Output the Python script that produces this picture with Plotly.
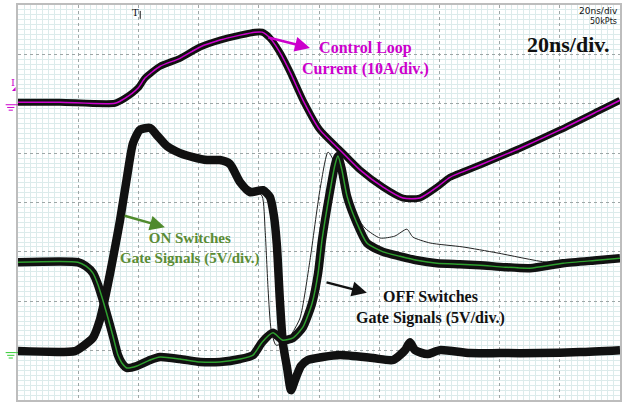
import plotly.graph_objects as go

# Time axis in ns (20 ns/div, 10 divisions); vertical axis in screen divisions (8)
cur_t = [0, 13.95, 32.2, 35.5, 39.9, 42.2, 47.2, 53.8, 60.5, 67.1, 73.8, 78.7, 81.1, 83.7, 87.0, 90.4,
         94.7, 100.3, 107.0, 113.6, 121.3, 127.9, 133.5, 139.2, 143.5, 153.5, 166.8, 180.1, 193.4, 200]
cur_v = [6.03, 6.03, 6.01, 6.11, 6.32, 6.52, 6.76, 6.92, 7.15, 7.29, 7.39, 7.45, 7.45, 7.33, 7.04, 6.64,
         6.07, 5.47, 5.06, 4.66, 4.31, 4.09, 4.09, 4.31, 4.51, 4.76, 5.10, 5.47, 5.87, 6.07]

on_t = [0, 18.9, 21.6, 24.9, 27.2, 28.9, 30.6, 32.2, 33.9, 36.2, 38.2, 40.5, 43.9, 46.2, 49.5, 53.8,
        58.1, 62.8, 67.1, 70.4, 73.8, 77.1, 81.4, 83.7, 85.0, 86.0, 87.0, 88.0, 89.4, 90.7, 92.3, 94.0,
        96.3, 101.3, 107.0, 117.9, 124.6, 128.6, 130.2, 131.9, 135.9, 140.2, 150.1, 160.1, 173.4, 186.7, 200]
on_v = [0.99, 0.99, 1.09, 1.26, 1.62, 2.06, 2.57, 3.08, 3.64, 4.51, 5.20, 5.47, 5.51, 5.36, 5.14, 5.00,
        4.92, 4.86, 4.86, 4.78, 4.41, 4.21, 4.25, 4.11, 3.74, 3.14, 2.02, 1.15, 0.65, 0.20, 0.45, 0.69,
        0.81, 0.87, 0.91, 0.85, 0.81, 1.01, 1.17, 1.01, 0.93, 1.01, 0.95, 0.95, 0.95, 0.97, 1.01]

on_out_t = [73.8, 78.7, 81.1, 82.1, 83.1, 84.1, 85.7, 88.0]
on_out_v = [4.41, 4.25, 4.13, 3.44, 2.23, 1.42, 1.11, 1.15]

off_t = [0, 19.9, 22.6, 24.9, 26.6, 28.2, 29.9, 31.6, 33.2, 34.5, 36.2, 39.5, 43.9, 47.2, 53.8, 60.5,
         67.1, 73.8, 78.1, 81.1, 84.7, 88.0, 91.4, 94.7, 97.7, 99.7, 101.0, 103.6, 105.3, 106.3, 107.6,
         109.3, 112.6, 115.9, 121.3, 126.9, 132.5, 139.2, 146.8, 153.5, 161.8, 170.1, 181.1, 192.4, 200]
off_v = [2.79, 2.79, 2.71, 2.57, 2.33, 2.02, 1.66, 1.28, 0.91, 0.75, 0.65, 0.69, 0.81, 0.87, 0.83, 0.77,
         0.77, 0.83, 0.91, 1.17, 1.36, 1.21, 1.26, 1.48, 1.96, 2.57, 3.24, 4.21, 4.76, 4.94, 4.66,
         4.13, 3.58, 3.18, 3.00, 2.91, 2.83, 2.77, 2.75, 2.73, 2.69, 2.67, 2.77, 2.83, 2.87]

off_out_t = [90.4, 93.7, 97.0, 100.3, 103.0, 105.6, 110.3, 115.3, 120.3, 125.2, 129.2, 131.2, 136.9,
             147.8, 159.1, 175.7, 186.7]
off_out_v = [1.28, 1.66, 2.83, 4.25, 5.02, 4.76, 3.95, 3.48, 3.28, 3.32, 3.46, 3.30, 3.18,
             3.10, 2.98, 2.79, 2.79]

MAG = "#CC00CC"
GRN = "#4F8A2C"
TXTG = "#5B8C35"

fig = go.Figure()
sm = 0.6
# Control loop current: black persistence band + magenta trace
fig.add_trace(go.Scatter(x=cur_t, y=cur_v, mode="lines",
                         line=dict(color="#111", width=7, shape="spline", smoothing=sm)))
fig.add_trace(go.Scatter(x=cur_t, y=cur_v, mode="lines",
                         line=dict(color=MAG, width=1.5, shape="spline", smoothing=sm)))
# ON switches bundle
fig.add_trace(go.Scatter(x=on_out_t, y=on_out_v, mode="lines",
                         line=dict(color="#222", width=1, shape="spline", smoothing=sm)))
fig.add_trace(go.Scatter(x=on_t, y=on_v, mode="lines",
                         line=dict(color="#111", width=8.5, shape="spline", smoothing=sm)))
# OFF switches bundle
fig.add_trace(go.Scatter(x=off_out_t, y=off_out_v, mode="lines",
                         line=dict(color="#222", width=1, shape="spline", smoothing=sm)))
fig.add_trace(go.Scatter(x=off_t, y=off_v, mode="lines",
                         line=dict(color="#111", width=8.5, shape="spline", smoothing=sm)))
fig.add_trace(go.Scatter(x=off_t, y=off_v, mode="lines",
                         line=dict(color="#2E9E2E", width=1.5, shape="spline", smoothing=sm)))

axis_common = dict(showticklabels=False, ticks="", zeroline=False,
                   showline=True, mirror=True, linecolor="#BDBDBD", linewidth=2,
                   showgrid=True, gridcolor="#9EA6A6", gridwidth=1, griddash="dot")
fig.update_xaxes(range=[0, 200], dtick=20, tick0=0,
                 minor=dict(dtick=2, showgrid=True, gridcolor="#DCEBEB", gridwidth=1, griddash="solid"),
                 **axis_common)
fig.update_yaxes(range=[0, 8], dtick=1, tick0=0,
                 minor=dict(dtick=0.1, showgrid=True, gridcolor="#DCEBEB", gridwidth=1, griddash="solid"),
                 **axis_common)

serif = "Liberation Serif"
ann = []
ann.append(dict(x=115.4, y=6.92, xref="x", yref="y", text="<b>Control Loop<br>Current (10A/div.)</b>",
                showarrow=False, font=dict(family=serif, size=16, color=MAG), align="center"))
ann.append(dict(x=57.1, y=3.06, xref="x", yref="y", text="<b>ON Switches<br>Gate Signals (5V/div.)</b>",
                showarrow=False, font=dict(family=serif, size=15, color=TXTG), align="center"))
ann.append(dict(x=137.0, y=1.88, xref="x", yref="y", text="<b>OFF Switches<br>Gate Signals (5V/div.)</b>",
                showarrow=False, font=dict(family=serif, size=16, color="#111"), align="center"))
ann.append(dict(x=183.0, y=7.19, xref="x", yref="y", text="<b>20ns/div.</b>",
                showarrow=False, font=dict(family=serif, size=22, color="#111")))
ann.append(dict(x=1.0, y=0.985, xref="paper", yref="paper", xanchor="right", yanchor="middle",
                text="20ns/div", showarrow=False, font=dict(family="DejaVu Sans", size=9, color="#111")))
ann.append(dict(x=0.998, y=0.957, xref="paper", yref="paper", xanchor="right", yanchor="middle",
                text="50kPts", showarrow=False, font=dict(family="DejaVu Sans", size=8, color="#111")))
# arrows
for (hx, hy, tx, ty, col) in [(97.0, 7.13, 82.7, 7.35, MAG), (48.8, 3.50, 34.9, 3.74, GRN),
                              (115.9, 2.17, 102.0, 2.39, "#111")]:
    ann.append(dict(x=hx, y=hy, ax=tx, ay=ty, xref="x", yref="y", axref="x", ayref="y",
                    text="", showarrow=True, arrowhead=2, arrowsize=1.2, arrowwidth=2.5,
                    arrowcolor=col))
# scope markers
ann.append(dict(x=39.0, y=1.0, xref="x", yref="paper", yanchor="top", text="T",
                showarrow=False, font=dict(family="DejaVu Serif", size=10, color="#111")))
ann.append(dict(x=-0.015, y=6.43, xref="paper", yref="y", text="I",
                showarrow=False, font=dict(family="DejaVu Serif", size=10, color=MAG)))
fig.update_layout(annotations=ann)

shapes = []
# trigger marker tick
shapes.append(dict(type="line", xref="x", yref="paper", x0=40.6, x1=40.6, y0=0.985, y1=0.965,
                   line=dict(color="#111", width=1)))
# small triangle next to I
shapes.append(dict(type="path", xref="paper", yref="y",
                   path="M -0.010,6.26 L -0.004,6.26 L -0.004,6.34 Z",
                   fillcolor=MAG, line=dict(color=MAG, width=0)))
# ground symbols
for (yc, col) in [(5.98, MAG), (0.96, "#33CC33")]:
    for i, (half, dy) in enumerate([(0.0085, 0.0), (0.006, 0.055), (0.0035, 0.11)]):
        shapes.append(dict(type="line", xref="paper", yref="y", x0=-0.012 - half, x1=-0.012 + half,
                           y0=yc - dy, y1=yc - dy, line=dict(color=col, width=1)))
    shapes.append(dict(type="line", xref="paper", yref="y", x0=-0.003, x1=0.0,
                       y0=yc, y1=yc, line=dict(color=col, width=1)))
fig.update_layout(shapes=shapes)

fig.update_layout(width=628, height=402, margin=dict(l=18, r=8, t=5, b=2),
                  paper_bgcolor="white", plot_bgcolor="white", showlegend=False)
fig.write_html("out.html", config={"displayModeBar": False},
               post_script="document.body.style.margin='0';document.body.style.overflow='hidden';")
